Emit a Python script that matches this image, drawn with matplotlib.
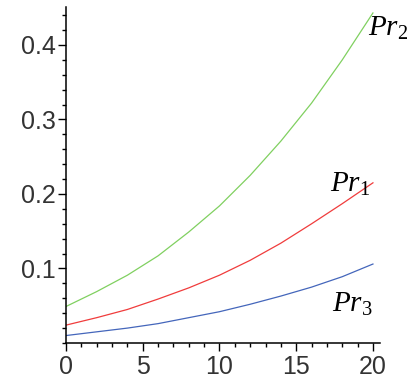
import matplotlib
matplotlib.use("Agg")
import matplotlib.pyplot as plt
from matplotlib.ticker import MultipleLocator

# values
x = [0, 2, 4, 6, 8, 10, 12, 14, 16, 18, 20]
pr1 = [0.024, 0.034, 0.045, 0.059, 0.074, 0.091, 0.111, 0.134, 0.160, 0.187, 0.215]
pr2 = [0.049, 0.069, 0.091, 0.117, 0.149, 0.184, 0.225, 0.271, 0.322, 0.380, 0.443]
pr3 = [0.010, 0.015, 0.020, 0.026, 0.034, 0.042, 0.052, 0.063, 0.075, 0.089, 0.106]
x_ticks = [0, 5, 10, 15, 20]
y_ticks = [0.1, 0.2, 0.3, 0.4]

plt.rcParams['mathtext.fontset'] = 'custom'
plt.rcParams['mathtext.it'] = 'Liberation Serif:italic'
plt.rcParams['mathtext.rm'] = 'Liberation Serif'

fig = plt.figure(figsize=(4.15, 3.78), dpi=100)
ax = fig.add_axes([66 / 415, 35 / 378, 314 / 415, 336 / 378])

ax.plot(x, pr2, color='#80d060', lw=0.9)
ax.plot(x, pr1, color='#f03c3c', lw=0.9)
ax.plot(x, pr3, color='#4466bb', lw=0.9)

ax.set_xlim(0, 20.46)
ax.set_ylim(0, 0.451)
ax.set_xticks(x_ticks)
ax.set_yticks(y_ticks)
ax.set_yticklabels([str(v) for v in y_ticks])
ax.xaxis.set_minor_locator(MultipleLocator(1))
ax.yaxis.set_minor_locator(MultipleLocator(0.02))

for s in ['top', 'right']:
    ax.spines[s].set_visible(False)
for s in ['left', 'bottom']:
    ax.spines[s].set_linewidth(1.1)

ax.tick_params(which='major', length=5.5, width=1.0, direction='out')
ax.tick_params(which='minor', length=2.8, width=1.0, direction='out')
ax.tick_params(axis='both', labelsize=18, colors='black', labelcolor='#333333')
ax.tick_params(axis='y', pad=2)
ax.tick_params(axis='x', pad=3)
for lab in ax.get_xticklabels() + ax.get_yticklabels():
    lab.set_family('Liberation Sans')

lbl = dict(fontsize=21, va='baseline', ha='left', color='black')
ax.text(19.67, 0.412, r'$Pr_{\mathit{2}}$', **lbl)
ax.text(17.2, 0.203, r'$Pr_{\mathit{1}}$', **lbl)
ax.text(17.33, 0.0416, r'$Pr_{\mathit{3}}$', **lbl)

fig.savefig("out.png", dpi=100)
